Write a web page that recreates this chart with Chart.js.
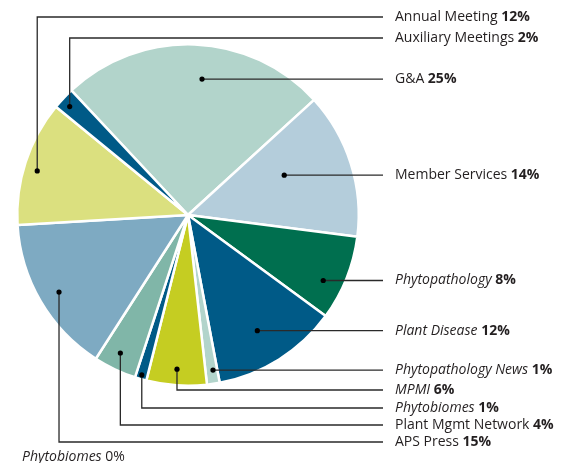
<!DOCTYPE html>
<html>
<head>
<meta charset="utf-8">
<script src="https://cdn.jsdelivr.net/npm/chart.js@4/dist/chart.umd.min.js"></script>
<style>
  html, body { margin: 0; padding: 0; background: #ffffff; }
  #wrap { position: absolute; left: 0; top: 0; width: 571px; height: 463px; }
</style>
</head>
<body>
<div id="wrap"><canvas id="c" width="571" height="463"></canvas></div>
<script>
// ---- data ----
const categories = ['G&A', 'Member Services', 'Phytopathology', 'Plant Disease',
  'Phytopathology News', 'MPMI', 'Phytobiomes', 'Plant Mgmt Network',
  'APS Press', 'Annual Meeting', 'Auxiliary Meetings'];
const sliceValues = [25.2, 13.8, 8.05, 11.95, 1.2, 5.7, 1.1, 4.05, 15.0, 11.85, 2.1];
const pctLabels = ['25%', '14%', '8%', '12%', '1%', '6%', '1%', '4%', '15%', '12%', '2%'];
const italicNames = [false, false, true, true, true, true, true, false, false, false, false];
const extraLabelName = 'Phytobiomes';
const extraLabelPct = '0%';

// ---- styling / layout ----
const colors = ['#b2d4cb', '#b4cddb', '#006f4f', '#005a87', '#b2d4cb', '#c5cd22',
  '#005a87', '#80b6a8', '#7eaac2', '#dbe07f', '#005a87'];
// anchor of each leader dot inside its slice: fraction of slice angle, fraction of radius
const anchorAngleFrac = [0.54, 0.40, 0.64, 0.53, 0.36, 0.51, 0.5, 0.55, 0.49, 0.46, 0.42];
const anchorRadiusFrac = [0.80, 0.61, 0.88, 0.79, 0.92, 0.905, 0.975, 0.90, 0.88, 0.92, 0.94];
// label line y (null = straight horizontal from the dot)
const labelLineY = [null, null, null, null, null, 390, 408, 425, 442, 17, 38];
const lineEndX = 383;
const textX = 395;
const FONT_FAMILY = '"Open Sans", "Noto Sans", sans-serif';
const FONT_SIZE = 14;
const TEXT_COLOR = '#231f20';
const LINE_COLOR = '#2a2a2a';

const leaderPlugin = {
  id: 'leaders',
  afterDatasetsDraw(chart) {
    const ctx = chart.ctx;
    const meta = chart.getDatasetMeta(0);
    ctx.save();
    meta.data.forEach((arc, i) => {
      const p = arc.getProps(['x', 'y', 'startAngle', 'endAngle', 'outerRadius'], true);
      const a = p.startAngle + anchorAngleFrac[i] * (p.endAngle - p.startAngle);
      const r = anchorRadiusFrac[i] * p.outerRadius;
      const dx = p.x + Math.cos(a) * r;
      const dy = p.y + Math.sin(a) * r;
      const ly = labelLineY[i] === null ? dy : labelLineY[i];
      ctx.strokeStyle = LINE_COLOR;
      ctx.lineWidth = 1.3;
      ctx.beginPath();
      ctx.moveTo(dx, dy);
      ctx.lineTo(dx, ly);
      ctx.lineTo(lineEndX, ly);
      ctx.stroke();
      ctx.fillStyle = '#000';
      ctx.beginPath();
      ctx.arc(dx, dy, 2.6, 0, Math.PI * 2);
      ctx.fill();
      // text
      ctx.textBaseline = 'middle';
      ctx.fillStyle = TEXT_COLOR;
      const nameFont = (italicNames[i] ? 'italic ' : '') + FONT_SIZE + 'px ' + FONT_FAMILY;
      ctx.font = nameFont;
      const name = categories[i] + ' ';
      ctx.fillText(name, textX, ly);
      const w = ctx.measureText(name).width;
      ctx.font = 'bold ' + FONT_SIZE + 'px ' + FONT_FAMILY;
      ctx.fillText(pctLabels[i], textX + w, ly);
    });
    // extra label at bottom-left
    ctx.textBaseline = 'middle';
    ctx.fillStyle = TEXT_COLOR;
    ctx.font = 'italic ' + FONT_SIZE + 'px ' + FONT_FAMILY;
    const n = extraLabelName + ' ';
    ctx.fillText(n, 22, 457);
    const w2 = ctx.measureText(n).width;
    ctx.font = FONT_SIZE + 'px ' + FONT_FAMILY;
    ctx.fillText(extraLabelPct, 22 + w2, 457);
    ctx.restore();
  }
};

new Chart(document.getElementById('c'), {
  type: 'pie',
  data: {
    labels: categories,
    datasets: [{
      data: sliceValues,
      backgroundColor: colors,
      borderColor: '#ffffff',
      borderWidth: 2.5
    }]
  },
  options: {
    responsive: false,
    animation: false,
    rotation: -43.1,
    layout: { padding: { left: 16, right: 211, top: 43, bottom: 76 } },
    plugins: { legend: { display: false }, tooltip: { enabled: false }, title: { display: false } }
  },
  plugins: [leaderPlugin]
});
</script>
</body>
</html>
